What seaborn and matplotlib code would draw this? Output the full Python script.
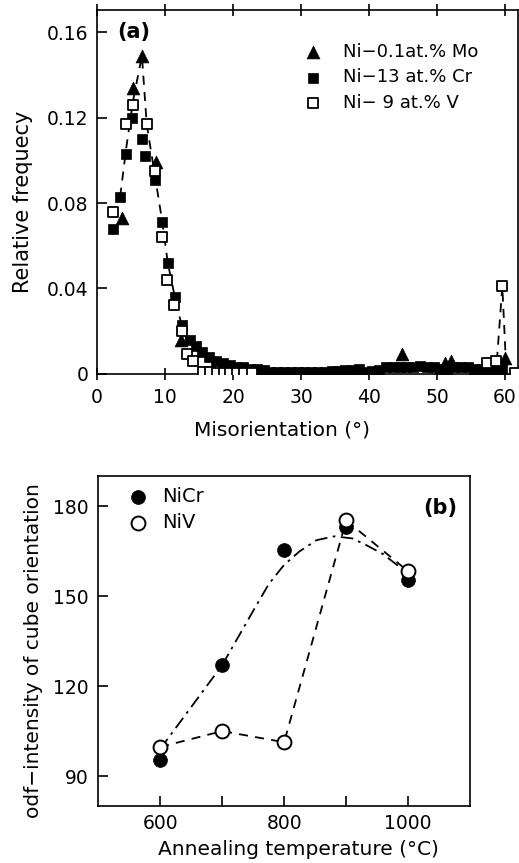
import matplotlib
matplotlib.use("Agg")
import matplotlib.pyplot as plt
import seaborn as sns
import numpy as np
import pandas as pd

# ---------------- Panel (a) data ----------------
mo_x = [3.7, 5.3, 6.6, 8.7, 12.4, 44.8, 51.2, 52.0, 60.0]
mo_y = [0.073, 0.134, 0.149, 0.099, 0.016, 0.0094, 0.005, 0.006, 0.0075]

cr_x = [2.4, 3.4, 4.3, 5.1, 6.6, 7.1, 8.5, 9.6, 10.4, 11.5, 12.5, 13.7,
        14.5, 15.5, 16.5, 17.5, 18.5, 19.5, 20.5, 21.5, 22.5, 23.5, 24.5,
        25.5, 26.5, 27.5, 28.5, 29.5, 30.5, 31.5, 32.5, 33.5, 34.5, 35.5,
        36.5, 37.5, 38.5, 39.5, 40.5, 41.5, 42.5, 43.5, 44.5, 45.5, 46.5,
        47.5, 48.5, 49.5, 50.5, 51.5, 52.5, 53.5, 54.5, 55.5, 56.5, 57.5,
        58.5, 59.5]
cr_y = [0.068, 0.083, 0.103, 0.120, 0.110, 0.102, 0.091, 0.071, 0.052, 0.036,
        0.023, 0.016, 0.013, 0.010, 0.008, 0.006, 0.005, 0.004, 0.003, 0.003,
        0.002, 0.002, 0.0015, 0.001, 0.001, 0.001, 0.001, 0.001, 0.001, 0.001,
        0.001, 0.001, 0.0012, 0.0013, 0.0015, 0.0015, 0.002, 0.001, 0.0012,
        0.0015, 0.003, 0.003, 0.003, 0.003, 0.003, 0.0035, 0.003, 0.003,
        0.002, 0.002, 0.003, 0.003, 0.003, 0.002, 0.002, 0.002, 0.002, 0.002]

v_x = [2.4, 4.3, 5.3, 7.3, 8.5, 9.6, 10.3, 11.3, 12.5, 13.3, 14.1, 15.6,
       16.6, 17.6, 18.6, 19.6, 20.6, 21.6, 22.8, 57.4, 58.7, 59.6, 61.5]
v_y = [0.076, 0.117, 0.126, 0.117, 0.095, 0.064, 0.044, 0.032, 0.020, 0.009,
       0.0058, 0.001, 0.0008, 0.0005, 0.0005, 0.0005, 0.0005, 0.0005, 0.0005,
       0.005, 0.006, 0.041, 0.0005]

# dashed guide lines drawn in panel (a)
guide1_x = [3.4, 4.3, 5.3, 6.6, 7.3, 8.5, 9.6, 10.4, 11.5, 12.5, 13.5]
guide1_y = [0.083, 0.106, 0.128, 0.149, 0.117, 0.093, 0.071, 0.052, 0.035, 0.022, 0.013]
guide2_x = [58.8, 59.6, 60.1]
guide2_y = [0.006, 0.041, 0.007]

# ---------------- Panel (b) data ----------------
temp = [600, 700, 800, 900, 1000]
nicr = [95.3, 127.0, 165.3, 173.0, 155.3]
niv = [99.7, 105.0, 101.3, 175.3, 158.3]

# dash-dot guide curve for NiCr
fit_x = [600, 650, 700, 745, 775, 800, 825, 852, 881, 910, 933, 960, 1000]
fit_y = [99, 113, 127, 143.3, 154, 160.5, 165, 168.7, 170, 169.3, 167, 164, 157.5]

# ---------------- style ----------------
sns.set_theme(style="ticks")
plt.rcParams['font.family'] = ['DejaVu Sans']
plt.rcParams.update({"text.color": "black", "axes.labelcolor": "black",
                     "xtick.color": "black", "ytick.color": "black",
                     "axes.edgecolor": "black"})
TFS = 13.5   # tick labels
LFS = 14.5   # axis labels

fig = plt.figure(figsize=(5.19, 8.63), dpi=100)
ax1 = fig.add_axes([0.187, 0.567, 0.811, 0.421])
ax2 = fig.add_axes([0.189, 0.066, 0.717, 0.382])

# ---- panel (a) ----
sns.lineplot(x=guide1_x, y=guide1_y, ax=ax1, color="black", lw=1.3,
             linestyle=(0, (5, 4)), sort=False, estimator=None)
sns.lineplot(x=guide2_x, y=guide2_y, ax=ax1, color="black", lw=1.3,
             linestyle=(0, (5, 4)), sort=False, estimator=None)
sns.scatterplot(x=mo_x, y=mo_y, ax=ax1, marker="^", s=85, color="black",
                edgecolor="black", linewidth=0.5, label="Ni\u22120.1at.% Mo", zorder=3)
sns.scatterplot(x=cr_x, y=cr_y, ax=ax1, marker="s", s=52, color="black",
                edgecolor="black", linewidth=0.5, label="Ni\u221213 at.% Cr", zorder=4)
sns.scatterplot(x=v_x, y=v_y, ax=ax1, marker="s", s=52, facecolor="white",
                edgecolor="black", linewidth=1.3, label="Ni\u2212 9 at.% V", zorder=5)

ax1.set_xlim(0, 61.9)
ax1.set_ylim(0, 0.1703)
ax1.set_xticks([0, 10, 20, 30, 40, 50, 60])
ax1.set_yticks([0, 0.04, 0.08, 0.12, 0.16])
ax1.set_yticklabels(["0", "0.04", "0.08", "0.12", "0.16"])
ax1.tick_params(axis="both", direction="in", length=7, width=1.2,
                labelsize=TFS, pad=6, top=True, right=False, colors="black")
ax1.tick_params(axis="x", direction="inout", length=9)
for sp in ax1.spines.values():
    sp.set_linewidth(1.2)
    sp.set_color("black")
ax1.set_xlabel("Misorientation (\u00b0)", fontsize=LFS, color="black")
ax1.set_ylabel("Relative frequecy", fontsize=LFS + 0.5, color="black")
ax1.xaxis.set_label_coords(0.44, -0.129)
ax1.yaxis.set_label_coords(-0.152, 0.473)
ax1.text(0.048, 0.94, "(a)", transform=ax1.transAxes, fontsize=15,
         fontweight="bold", ha="left", va="center", color="black")
leg1 = ax1.legend(loc="upper left", bbox_to_anchor=(0.492, 0.911), frameon=False,
                  fontsize=13, borderaxespad=0, borderpad=0, handlelength=1.0,
                  handletextpad=1.16, labelspacing=0.43)
for t in leg1.get_texts():
    t.set_color("black")

# ---- panel (b) ----
sns.lineplot(x=fit_x, y=fit_y, ax=ax2, color="black", lw=1.3,
             linestyle=(0, (7, 3, 1.5, 3)), sort=False, estimator=None)
sns.lineplot(x=temp, y=niv, ax=ax2, color="black", lw=1.3,
             linestyle=(0, (5, 4)), sort=False, estimator=None)
sns.scatterplot(x=temp, y=nicr, ax=ax2, marker="o", s=100, color="black",
                edgecolor="black", linewidth=0.5, label="NiCr", zorder=4)
sns.scatterplot(x=temp, y=niv, ax=ax2, marker="o", s=100, facecolor="white",
                edgecolor="black", linewidth=1.4, label="NiV", zorder=5)

ax2.set_xlim(500, 1100)
ax2.set_ylim(80, 190)
ax2.set_xticks([600, 700, 800, 900, 1000])
ax2.set_xticklabels(["600", "", "800", "", "1000"])
ax2.set_yticks([90, 120, 150, 180])
ax2.tick_params(axis="both", direction="in", length=7, width=1.2,
                labelsize=TFS, pad=7, colors="black")
ax2.tick_params(axis="x", pad=6)
for sp in ax2.spines.values():
    sp.set_linewidth(1.2)
    sp.set_color("black")
ax2.set_xlabel("Annealing temperature (\u00b0C)", fontsize=LFS, color="black")
ax2.set_ylabel("odf\u2212intensity of cube orientation", fontsize=LFS, color="black")
ax2.xaxis.set_label_coords(0.538, -0.103)
ax2.yaxis.set_label_coords(-0.148, 0.473)
ax2.text(0.874, 0.905, "(b)", transform=ax2.transAxes, fontsize=15,
         fontweight="bold", ha="left", va="center", color="black")
leg2 = ax2.legend(loc="upper left", bbox_to_anchor=(0.0815, 0.967), frameon=False,
                  fontsize=14, borderaxespad=0, borderpad=0, handlelength=1.0,
                  handletextpad=0.74, labelspacing=0.35)
for t in leg2.get_texts():
    t.set_color("black")

fig.savefig("out.png", dpi=100)
